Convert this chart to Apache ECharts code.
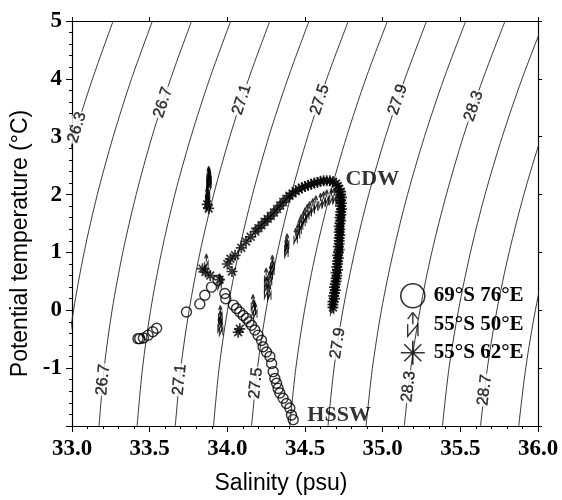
<!DOCTYPE html>
<html><head><meta charset="utf-8">
<script src="https://cdn.jsdelivr.net/npm/echarts@6/dist/echarts.min.js"></script>
<style>html,body{margin:0;padding:0;background:#fff}#c{width:562px;height:500px}</style>
</head><body><div id="c"></div>
<script>
// ---------- data ----------
const xTickValues = [33.0, 33.5, 34.0, 34.5, 35.0, 35.5, 36.0];
const yTickValues = [-2, -1, 0, 1, 2, 3, 4, 5];
const yShownLabels = [-1, 0, 1, 2, 3, 4, 5];

// isopycnals (sigma-theta): salinity at each temperature of contourT
const contourT = [-2, -1, 0, 1, 2, 3, 4, 5];
const isoLevels = [26.3, 26.5, 26.7, 26.9, 27.1, 27.3, 27.5, 27.7, 27.9, 28.1, 28.3, 28.5, 28.7, 28.9];
const isoS = [
  [32.682, 32.714, 32.763, 32.830, 32.914, 33.014, 33.132, 33.265],
  [32.928, 32.960, 33.010, 33.078, 33.163, 33.265, 33.383, 33.518],
  [33.174, 33.207, 33.258, 33.327, 33.413, 33.515, 33.635, 33.770],
  [33.419, 33.454, 33.506, 33.576, 33.662, 33.766, 33.886, 34.022],
  [33.665, 33.700, 33.754, 33.824, 33.912, 34.016, 34.137, 34.274],
  [33.911, 33.947, 34.001, 34.073, 34.162, 34.267, 34.389, 34.526],
  [34.156, 34.194, 34.249, 34.322, 34.411, 34.517, 34.640, 34.779],
  [34.402, 34.441, 34.497, 34.570, 34.661, 34.768, 34.891, 35.031],
  [34.648, 34.687, 34.744, 34.819, 34.910, 35.018, 35.143, 35.283],
  [34.893, 34.934, 34.992, 35.068, 35.160, 35.269, 35.394, 35.535],
  [35.139, 35.181, 35.240, 35.316, 35.410, 35.519, 35.646, 35.788],
  [35.385, 35.427, 35.488, 35.565, 35.659, 35.770, 35.897, 36.040],
  [35.630, 35.674, 35.735, 35.814, 35.909, 36.021, 36.148, 36.292],
  [35.876, 35.921, 35.983, 36.062, 36.158, 36.271, 36.400, 36.544]
];
const isoLabelLevel = [26.3, 26.7, 27.1, 27.5, 27.9, 28.3, 26.7, 27.1, 27.5, 27.9, 28.3, 28.7];
const isoLabelT     = [3.16, 3.59, 3.64, 3.64, 3.64, 3.53, -1.20, -1.20, -1.26, -0.57, -1.32, -1.38];

const seriesNames = ['69°S 76°E', '55°S 50°E', '55°S 62°E'];

const circ69 = [
  [33.425,-0.49],[33.436,-0.49],[33.46,-0.48],[33.49,-0.43],[33.52,-0.37],[33.545,-0.31],
  [33.737,-0.03],[33.823,0.11],[33.855,0.26],[33.898,0.40],[33.94,0.52],[33.984,0.29],[33.99,0.20],
  [34.039,0.09],[34.059,0.03],[34.08,-0.03],[34.102,-0.09],[34.123,-0.14],[34.14,-0.20],[34.156,-0.26],
  [34.177,-0.34],[34.198,-0.43],[34.22,-0.52],[34.23,-0.63],[34.252,-0.72],[34.274,-0.80],[34.285,-0.92],
  [34.295,-1.06],[34.306,-1.18],[34.317,-1.26],[34.327,-1.35],[34.338,-1.43],[34.359,-1.52],[34.381,-1.61],
  [34.402,-1.69],[34.413,-1.81],[34.424,-1.89]
];

const arrow50 = [
  [33.88,2.36],[33.88,2.33],[33.885,2.30],[33.88,2.27],[33.885,2.24],[33.88,2.21],
  [33.875,2.06],[33.87,2.00],[33.875,1.95],[33.87,1.90],[33.875,1.85],
  [33.865,0.84],[33.95,0.50],[33.955,-0.05],[33.955,-0.14],[33.95,-0.24],[33.96,-0.30],
  [34.165,0.14],[34.17,0.05],[34.18,0.00],[34.25,0.34],[34.25,0.45],[34.25,0.60],[34.27,0.31],
  [34.275,0.56],[34.28,0.66],[34.29,0.74],[34.29,0.82],[34.38,1.05],[34.38,1.12],[34.385,1.19],
  [34.44,1.29],[34.455,1.37],[34.465,1.45],[34.475,1.52],[34.49,1.58],[34.50,1.64],[34.515,1.70],
  [34.53,1.75],[34.55,1.80],[34.57,1.85],[34.60,1.89],[34.62,1.92],[34.64,1.95],[34.67,1.97],
  [34.69,1.98],[34.71,1.96],
  [34.735,1.90],[34.74,1.82],[34.735,1.74],[34.74,1.66],[34.735,1.58],[34.73,1.50],[34.735,1.42],
  [34.73,1.34],[34.73,1.26],[34.725,1.18],[34.73,1.10],[34.72,1.02],[34.72,0.94],[34.715,0.86],
  [34.715,0.78],[34.71,0.70],[34.705,0.62],[34.70,0.54],[34.70,0.46],[34.695,0.38],[34.69,0.30],
  [34.685,0.22],[34.68,0.14],[34.675,0.06]
];

const star62 = [
  [33.84,0.72],[33.86,0.66],[33.89,0.60],[33.95,0.53],[34.00,0.80],[34.02,0.89],[34.03,0.67],
  [34.05,0.95],[34.09,1.08],[34.12,1.19],[34.15,1.27],[34.18,1.36],[34.20,1.42],[34.22,1.47],
  [34.24,1.53],[34.26,1.58],[34.28,1.63],[34.30,1.69],[34.32,1.75],[34.34,1.81],[34.36,1.87],
  [34.38,1.93],[34.40,1.98],[34.42,2.02],[34.44,2.06],[34.46,2.09],[34.48,2.12],[34.50,2.14],
  [34.52,2.16],[34.54,2.18],[34.56,2.20],[34.58,2.21],[34.60,2.23],[34.62,2.24],[34.64,2.24],
  [34.66,2.24],[34.68,2.22],[34.70,2.19],[34.71,2.15],[34.72,2.10],[34.73,2.05],
  [34.73,2.00],[34.735,1.95],[34.73,1.90],[34.735,1.85],[34.73,1.80],[34.735,1.75],[34.73,1.70],
  [34.73,1.65],[34.725,1.60],[34.73,1.55],[34.725,1.50],[34.72,1.45],[34.725,1.40],[34.72,1.35],
  [34.725,1.30],[34.72,1.25],[34.72,1.20],[34.72,1.15],[34.715,1.10],[34.72,1.05],[34.715,1.00],
  [34.71,0.95],[34.715,0.90],[34.71,0.85],[34.71,0.80],[34.705,0.75],[34.71,0.70],[34.70,0.65],
  [34.705,0.60],[34.70,0.55],[34.70,0.50],[34.695,0.45],[34.69,0.40],[34.695,0.35],[34.69,0.30],
  [34.685,0.25],[34.69,0.20],[34.68,0.15],[34.68,0.10],[34.68,0.05],
  [34.07,-0.38],[34.08,-0.32],[33.88,1.76],[33.87,1.83]
];

const noteText = ['CDW', 'HSSW'];
const noteS = [34.757, 34.512];
const noteT = [2.26, -1.82];

// ---------- styles ----------
const STAR_PATH = 'path://M0,5L10,5M5,0L5,10M1.46,1.46L8.54,8.54M8.54,1.46L1.46,8.54';
const ARROW_PATH = 'path://M3,0L0,4M3,0L6,4M3,0L3,7M0,7L0,14L6,7L6,14';
const SERIF = 'Liberation Serif';
const SANS = 'Liberation Sans';
const hollow = (w) => ({ color: 'rgba(0,0,0,0)', borderColor: '#000', borderWidth: w });

function sAt(levelIdx, T) {
  const row = isoS[levelIdx];
  let i = 0;
  while (i < contourT.length - 2 && T > contourT[i + 1]) i++;
  const f = (T - contourT[i]) / (contourT[i + 1] - contourT[i]);
  return row[i] + f * (row[i + 1] - row[i]);
}

const chart = echarts.init(document.getElementById('c'));

const isoSeries = isoLevels.map((lv, k) => ({
  type: 'line', name: 'iso' + lv, silent: true, z: 1,
  showSymbol: false, symbol: 'none', smooth: 0.3, clip: true,
  lineStyle: { color: '#222', width: 0.9 },
  data: contourT.map((t, j) => [isoS[k][j], t])
}));

function labelData(withRot) {
  return isoLabelLevel.map((lv, i) => {
    const k = isoLevels.findIndex(v => Math.abs(v - lv) < 1e-6);
    const T = isoLabelT[i];
    const S = sAt(k, T);
    let rot = 70;
    if (withRot) {
      const p1 = chart.convertToPixel({ xAxisIndex: 0, yAxisIndex: 0 }, [sAt(k, T - 0.3), T - 0.3]);
      const p2 = chart.convertToPixel({ xAxisIndex: 0, yAxisIndex: 0 }, [sAt(k, T + 0.3), T + 0.3]);
      rot = Math.atan2(p1[1] - p2[1], p2[0] - p1[0]) * 180 / Math.PI;
    }
    return { value: [S, T], name: lv.toFixed(1), label: { rotate: rot } };
  });
}

const axisCommon = {
  type: 'value', splitLine: { show: false },
  axisLine: { show: true, onZero: false, lineStyle: { color: '#000', width: 1.2 } }
};

const option = {
  animation: false,
  backgroundColor: '#fff',
  grid: { left: 72, top: 21, width: 466, height: 407, containLabel: false },
  legend: {
    orient: 'vertical', left: 395, top: 278, itemWidth: 32, itemHeight: 24, itemGap: 3,
    selectedMode: false, symbolKeepAspect: true,
    textStyle: { fontFamily: SERIF, fontWeight: 'bold', fontSize: 21, color: '#000' },
    data: [
      { name: seriesNames[0], icon: 'circle', itemStyle: hollow(1.6) },
      { name: seriesNames[1], icon: ARROW_PATH, itemStyle: hollow(1.4) },
      { name: seriesNames[2], icon: STAR_PATH, itemStyle: hollow(1.6) }
    ]
  },
  xAxis: [
    Object.assign({}, axisCommon, {
      min: xTickValues[0], max: xTickValues[xTickValues.length - 1], interval: xTickValues[1] - xTickValues[0],
      position: 'bottom',
      axisTick: { show: true, length: 6, lineStyle: { color: '#000' } },
      minorTick: { show: true, splitNumber: 5, length: 3, lineStyle: { color: '#000' } },
      axisLabel: { margin: 12, color: '#000', fontFamily: SERIF, fontWeight: 'bold', fontSize: 23,
        formatter: v => v.toFixed(1) },
      name: 'Salinity (psu)', nameLocation: 'middle', nameGap: 46,
      nameTextStyle: { fontFamily: SANS, fontSize: 23, color: '#000', padding: [0, 48, 0, 0] }
    }),
    Object.assign({}, axisCommon, {
      min: xTickValues[0], max: xTickValues[xTickValues.length - 1], interval: xTickValues[1] - xTickValues[0],
      position: 'top',
      axisTick: { show: true, length: 4, lineStyle: { color: '#000' } },
      axisLabel: { show: false }
    })
  ],
  yAxis: [
    Object.assign({}, axisCommon, {
      min: yTickValues[0], max: yTickValues[yTickValues.length - 1], interval: yTickValues[1] - yTickValues[0],
      position: 'left',
      axisTick: { show: true, length: 6, lineStyle: { color: '#000' } },
      minorTick: { show: true, splitNumber: 5, length: 3, lineStyle: { color: '#000' } },
      axisLabel: { margin: 10, color: '#000', fontFamily: SERIF, fontWeight: 'bold', fontSize: 23,
        formatter: v => (yShownLabels.indexOf(Math.round(v)) >= 0 ? String(Math.round(v)) : '') },
      name: 'Potential temperature (°C)', nameLocation: 'middle', nameGap: 36,
      nameTextStyle: { fontFamily: SANS, fontSize: 23, color: '#000', padding: [0, 40, 0, 0] }
    }),
    Object.assign({}, axisCommon, {
      min: yTickValues[0], max: yTickValues[yTickValues.length - 1], interval: yTickValues[1] - yTickValues[0],
      position: 'right',
      axisTick: { show: true, length: 4, lineStyle: { color: '#000' } },
      axisLabel: { show: false }
    })
  ],
  series: isoSeries.concat([
    {
      id: 'isoLabels', type: 'scatter', silent: true, z: 3,
      symbolSize: 1, itemStyle: { color: 'rgba(0,0,0,0)' },
      label: { show: true, position: 'inside', formatter: p => p.name,
        fontFamily: SANS, fontSize: 16, color: '#000', backgroundColor: '#fff', padding: [0, 1],
        textBorderColor: '#000', textBorderWidth: 0.4 },
      data: labelData(false)
    },
    {
      name: seriesNames[0], type: 'scatter', z: 5, symbol: 'circle', symbolSize: 10,
      itemStyle: hollow(1.4), data: circ69
    },
    {
      name: seriesNames[1], type: 'scatter', z: 6, symbol: ARROW_PATH, symbolSize: [8, 15],
      symbolKeepAspect: true, itemStyle: hollow(1.5), data: arrow50
    },
    {
      name: seriesNames[2], type: 'scatter', z: 7, symbol: STAR_PATH, symbolSize: 11,
      itemStyle: hollow(1.7), data: star62
    },
    {
      id: 'notes', type: 'scatter', silent: true, z: 8, symbolSize: 1,
      itemStyle: { color: 'rgba(0,0,0,0)' },
      label: { show: true, position: 'right', distance: 0, formatter: p => p.name,
        fontFamily: SERIF, fontWeight: 'bold', fontSize: 22, color: '#000' },
      data: noteText.map((t, i) => ({ name: t, value: [noteS[i], noteT[i]] }))
    }
  ])
};

chart.setOption(option);
chart.setOption({ series: [{ id: 'isoLabels', data: labelData(true) }] });
</script>
</body></html>
